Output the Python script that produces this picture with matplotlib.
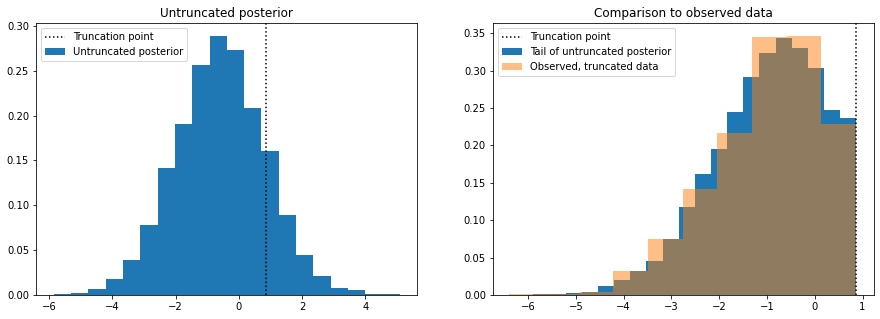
import matplotlib as mpl
mpl.use('Agg')
import matplotlib.pyplot as plt
import numpy as np

trunc = 0.87

# left panel: untruncated posterior, 20 bins
post_range = (-5.854, 5.095)
post_dens = [0.0015, 0.0026, 0.0067, 0.0178, 0.0394, 0.0780, 0.1415, 0.1909,
             0.2562, 0.2889, 0.2729, 0.2083, 0.1604, 0.0891, 0.0446, 0.0215,
             0.0078, 0.0056, 0.0015, 0.0015]

# right panel: tail of posterior below truncation, 20 bins
tail_range = (-5.89, 0.87)
tail_dens = [0.0015, 0.0015, 0.0022, 0.0040, 0.0116, 0.0196, 0.0317, 0.0460,
             0.0750, 0.1170, 0.1620, 0.1950, 0.2450, 0.2917, 0.3240, 0.3440,
             0.3300, 0.3040, 0.2475, 0.2370]

# observed truncated data, 10 bins
obs_range = (-6.396, 0.864)
obs_dens = [0.0017, 0.0007, 0.0040, 0.0320, 0.0750, 0.1420, 0.2170, 0.3450,
            0.3466, 0.2290]


def edges(rng, dens):
    return np.linspace(rng[0], rng[1], len(dens) + 1)


fig = plt.figure(figsize=(880 / 72, 319 / 72), dpi=72)
ax1 = fig.add_axes([36 / 880, 24 / 319, 381 / 880, 272 / 319])
ax2 = fig.add_axes([493 / 880, 24 / 319, 381 / 880, 272 / 319])

e = edges(post_range, post_dens)
ax1.axvline(trunc, color='k', linestyle=':', label='Truncation point')
ax1.hist(e[:-1], bins=e, weights=post_dens, label='Untruncated posterior')
ax1.set_xlim(-6.42, 5.64)
ax1.set_ylim(0, 0.3033)
ax1.set_title('Untruncated posterior')
ax1.legend(loc='upper left')

e = edges(tail_range, tail_dens)
eo = edges(obs_range, obs_dens)
ax2.axvline(trunc, color='k', linestyle=':', label='Truncation point')
ax2.hist(e[:-1], bins=e, weights=tail_dens, label='Tail of untruncated posterior')
ax2.hist(eo[:-1], bins=eo, weights=obs_dens, alpha=0.5,
         label='Observed, truncated data')
ax2.set_xlim(-6.735, 1.24)
ax2.set_ylim(0, 0.3635)
ax2.set_title('Comparison to observed data')
ax2.legend(loc='upper left')

fig.savefig('out.png', dpi=72)
